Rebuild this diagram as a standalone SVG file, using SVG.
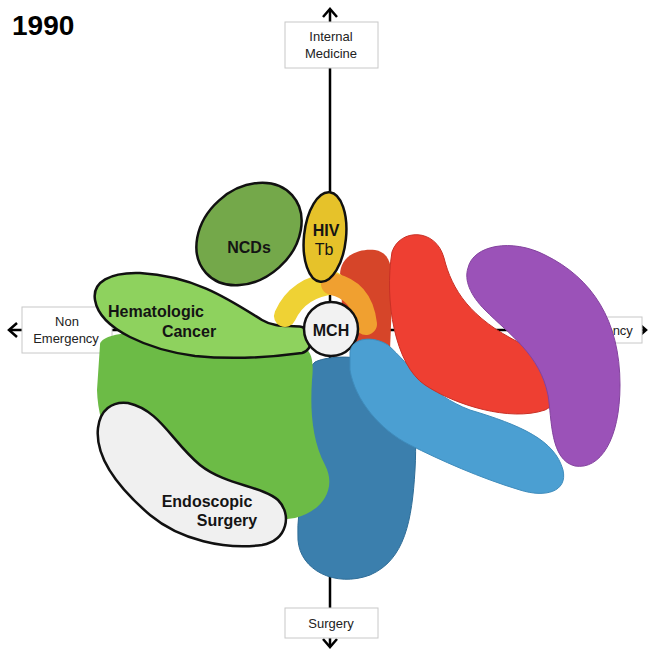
<svg xmlns="http://www.w3.org/2000/svg" width="650" height="653" viewBox="0 0 650 653">
<style>
.ax{stroke:#000;stroke-width:2.5;fill:none}
.lbl{fill:#fff;stroke:#c8c8c8;stroke-width:1}
.lt{font-family:"Liberation Sans",Arial,sans-serif;font-size:13px;fill:#222;text-anchor:middle}
.nt{font-family:"Liberation Sans",Arial,sans-serif;font-size:16px;font-weight:bold;fill:#141414;text-anchor:middle}
.nn{font-weight:normal}
.ol{stroke:#111;stroke-width:2.5}
</style>
<rect width="650" height="653" fill="#fff"/>
<text x="12" y="35" font-family="Liberation Sans,Arial,sans-serif" font-size="28" font-weight="bold" fill="#000">1990</text>
<g id="connectors">
<line class="ax" x1="330" y1="9" x2="330" y2="647"/>
<line class="ax" x1="9" y1="330" x2="645" y2="330"/>
<polyline class="ax" points="323,17 330,9 337,17"/>
<polyline class="ax" points="323,639 330,647 337,639"/>
<polyline class="ax" points="17,323 9,330 17,337"/>
<polyline class="ax" points="638,323 646,330 638,337"/>
</g>
<g id="label-internal-medicine">
<rect class="lbl" x="285" y="22" width="93" height="46"/>
<text class="lt" x="331" y="41">Internal</text>
<text class="lt" x="331" y="58">Medicine</text>
</g>
<g id="label-surgery">
<rect class="lbl" x="285" y="608" width="93" height="30"/>
<text class="lt" x="331" y="628">Surgery</text>
</g>
<g id="label-non-emergency">
<rect class="lbl" x="22" y="307" width="90" height="46"/>
<text class="lt" x="67" y="326">Non</text>
<text class="lt" x="66" y="343">Emergency</text>
</g>
<g id="label-emergency">
<rect class="lbl" x="562" y="317" width="80" height="26"/>
<text class="lt" x="600" y="335">Emergency</text>
</g>
<g id="dark-blue">
<path d="M315,362 C330,355 360,355 385,365 C410,380 418,420 415,470 C412,520 405,560 370,575 C335,588 300,570 298,540 C296,500 310,470 308,440 C306,410 300,375 315,362 Z" fill="#3b7fad" stroke="#2f6d97" stroke-width="1"/>
</g>
<g id="green-main">
<path d="M100,345 C100,335 130,330 160,335 L300,345 C312,350 314,360 312,380 C310,410 312,440 325,465 C338,490 320,512 295,518 C250,525 200,520 160,500 C120,480 98,430 97,390 Z" fill="#6cbb46"/>
</g>
<g id="endoscopic-surgery">
<path class="ol" d="M128,403 C160,410 172,442 200,465 C225,485 262,486 278,500 C292,514 288,540 262,545 C225,550 180,540 150,515 C115,485 95,455 98,428 C100,410 112,401 128,403 Z" fill="#f0f0f0"/>
<text class="nt" x="207" y="507">Endoscopic</text>
<text class="nt" x="227" y="526">Surgery</text>
</g>
<g id="hematologic-cancer">
<path class="ol" d="M95,300 C92,282 110,272 140,273 C195,276 230,300 262,320 C275,328 290,325 302,327 C314,331 314,350 302,353 C265,358 225,359 195,356 C150,350 100,330 95,300 Z" fill="#8ed25e"/>
<text class="nt" x="156" y="317">Hematologic</text>
<text class="nt" x="189" y="337">Cancer</text>
</g>
<g id="ncds">
<ellipse class="ol" cx="249" cy="234" rx="58" ry="45" transform="rotate(-42 249 234)" fill="#74a84a"/>
<text class="nt" x="249" y="253">NCDs</text>
</g>
<g id="dark-red">
<path d="M340,275 C340,255 360,248 375,250 C392,253 393,270 392,300 L390,350 L345,350 Z" fill="#d64529"/>
</g>
<g id="yellow-arc">
<path d="M285,316 Q298,287 334,283" fill="none" stroke="#efd234" stroke-width="22" stroke-linecap="round"/>
</g>
<g id="orange-arc">
<path d="M332,284 Q362,290 366,324" fill="none" stroke="#f0a030" stroke-width="22" stroke-linecap="round"/>
</g>
<g id="hiv-tb">
<ellipse class="ol" cx="325" cy="237" rx="21" ry="45" transform="rotate(6 325 237)" fill="#e6c22a"/>
<text class="nt" x="326" y="236">HIV</text>
<text class="nt nn" x="324" y="255">Tb</text>
</g>
<g id="mch">
<circle class="ol" cx="331" cy="329" r="27" fill="#f2f2f2"/>
<text class="nt" x="331" y="336">MCH</text>
</g>
<g id="light-blue">
<path d="M350,352 C352,338 372,335 388,345 C410,365 430,395 470,410 C520,425 555,440 563,470 C568,492 545,498 520,490 C480,478 440,460 410,445 C380,430 355,400 350,370 Z" fill="#4b9fd2" stroke="#3f8cbc" stroke-width="1"/>
</g>
<g id="red">
<path d="M392,252 C400,228 436,228 444,258 C452,290 470,318 520,343 C562,362 574,395 545,410 C510,422 455,405 425,385 C395,365 384,300 392,252 Z" fill="#ee3f32" stroke="#c93025" stroke-width="1"/>
</g>
<g id="purple">
<path d="M468,268 C473,245 512,238 545,255 C592,278 620,320 620,385 C620,440 600,470 575,466 C550,460 552,420 548,395 C540,355 510,335 485,310 C470,295 464,280 468,268 Z" fill="#9b52b8" stroke="#83429e" stroke-width="1"/>
</g>
</svg>
